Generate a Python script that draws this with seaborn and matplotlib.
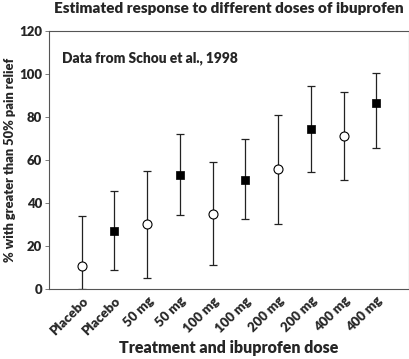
import numpy as np
import pandas as pd
import matplotlib
matplotlib.use("Agg")
import matplotlib.pyplot as plt
import seaborn as sns

# Estimates (% with >50% pain relief, with 95% CI)
labels = ["Placebo", "Placebo", "50 mg", "50 mg", "100 mg", "100 mg",
          "200 mg", "200 mg", "400 mg", "400 mg"]
estimate = [10.8, 27.1, 30.1, 53.0, 34.9, 50.8, 55.8, 74.3, 71.2, 86.7]
lower = [0.0, 8.8, 5.0, 34.3, 11.2, 32.4, 30.4, 54.3, 50.6, 65.6]
upper = [34.1, 45.7, 55.0, 72.1, 58.9, 69.6, 81.1, 94.4, 91.8, 100.3]
kind = ["open", "filled"] * 5

sns.set_theme(style="white")
plt.rcParams["font.family"] = ["Lato", "DejaVu Sans"]
W = "heavy"

df = pd.DataFrame({"pos": np.arange(1, len(labels) + 1), "est": estimate,
                   "lo": lower, "hi": upper, "kind": kind})

fig = plt.figure(figsize=(4.1, 3.59), dpi=100)
ax = fig.add_axes([0.1195, 0.195, 0.878, 0.7186])

# confidence intervals
ax.errorbar(df["pos"], df["est"],
            yerr=[df["est"] - df["lo"], df["hi"] - df["est"]],
            fmt="none", ecolor="#222222", elinewidth=0.9, capsize=2.6,
            capthick=0.9, zorder=1)

sns.scatterplot(data=df[df["kind"] == "filled"], x="pos", y="est", marker="s",
                color="black", s=34, edgecolor="black", linewidth=0.5,
                ax=ax, zorder=3, legend=False)
sns.scatterplot(data=df[df["kind"] == "open"], x="pos", y="est", marker="o",
                facecolor="white", s=42, edgecolor="black", linewidth=0.8,
                ax=ax, zorder=3, legend=False)

ax.set_xlim(0, 11)
ax.set_ylim(0, 120)
ax.set_yticks([0, 20, 40, 60, 80, 100, 120])
ax.set_xticks(df["pos"])
ax.set_xticklabels(labels, rotation=45, ha="right", rotation_mode="anchor",
                   fontsize=9.5, fontweight=W)
for t in ax.get_yticklabels():
    t.set_fontsize(9.5)
    t.set_fontweight(W)
ax.tick_params(axis="x", length=0, pad=4)
ax.tick_params(axis="y", length=3, width=0.6, color="#666666", pad=2,
               left=True)

for sp in ax.spines.values():
    sp.set_color("#555555")
    sp.set_linewidth(0.8)

ax.set_xlabel("Treatment and ibuprofen dose", fontsize=11.5,
              fontweight=W, labelpad=2)
ax.set_ylabel("% with greater than 50% pain relief", fontsize=9.3,
              fontweight=W)
ax.yaxis.set_label_coords(-0.092, 0.5)
ax.set_title("Estimated response to different doses of ibuprofen",
             fontsize=11, fontweight=W, pad=13)
ax.text(0.036, 0.895, "Data from Schou et al., 1998", transform=ax.transAxes,
        fontsize=9.9, fontweight=W, va="center")

fig.savefig("out.png", dpi=100)
